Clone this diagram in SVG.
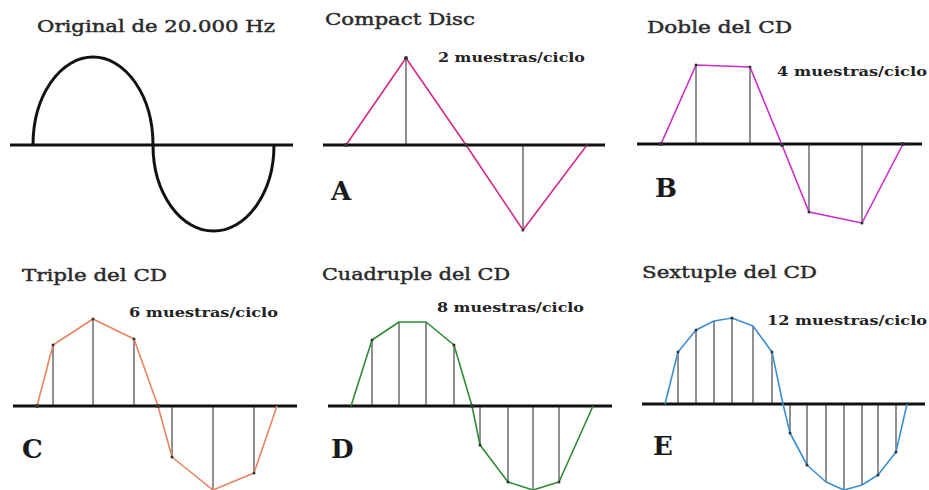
<svg xmlns="http://www.w3.org/2000/svg" width="929" height="490" viewBox="0 0 929 490">
<style>
.title{font-family:"DejaVu Serif","Liberation Serif",serif;font-size:16.5px;fill:#2a2a2a;stroke:#2a2a2a;stroke-width:0.45}
.rate{font-family:"DejaVu Serif","Liberation Serif",serif;font-size:12.5px;font-weight:bold;fill:#222}
.letter{font-family:"DejaVu Serif","Liberation Serif",serif;font-size:26px;font-weight:bold;fill:#1a1a1a}
.axis{stroke:#111;stroke-width:3;fill:none}
.stem{stroke:#222;stroke-width:1;fill:none}
.wave{fill:none;stroke-width:1.6;stroke-linejoin:round}
.dot{fill:#333}
</style>
<rect width="929" height="490" fill="#fff"/>

<g id="panel-original">
<text class="title" x="37" y="32" textLength="238" lengthAdjust="spacingAndGlyphs">Original de 20.000 Hz</text>
<line class="axis" x1="10" y1="145" x2="293" y2="145"/>
<path d="M33 145 A60 88 0 0 1 153 145 A60.5 86 0 0 0 274 145" fill="none" stroke="#111" stroke-width="3"/>
</g>

<g id="panel-A">
<text class="title" x="325" y="25" textLength="150" lengthAdjust="spacingAndGlyphs">Compact Disc</text>
<text class="rate" x="438" y="62" textLength="147" lengthAdjust="spacingAndGlyphs">2 muestras/ciclo</text>
<text class="letter" x="331" y="200">A</text>
<line class="axis" x1="323" y1="145" x2="605" y2="145"/>
<line class="stem" x1="406" y1="58" x2="406" y2="145"/>
<line class="stem" x1="523" y1="145" x2="523" y2="230"/>
<polyline class="wave" stroke="#d42a86" points="346,145 406,58 466,145 523,230 587,145"/>
<g class="dot"><circle cx="346" cy="145" r="2"/><circle cx="406" cy="58" r="2"/><circle cx="466" cy="145" r="2"/><circle cx="523" cy="230" r="1.5"/><circle cx="587" cy="145" r="1.5"/></g>
</g>

<g id="panel-B">
<text class="title" x="647" y="33" textLength="145" lengthAdjust="spacingAndGlyphs">Doble del CD</text>
<text class="rate" x="777" y="76" textLength="150" lengthAdjust="spacingAndGlyphs">4 muestras/ciclo</text>
<text class="letter" x="655" y="197">B</text>
<line class="axis" x1="637" y1="144" x2="922" y2="144"/>
<line class="stem" x1="696" y1="65" x2="696" y2="144"/>
<line class="stem" x1="750" y1="67" x2="750" y2="144"/>
<line class="stem" x1="809" y1="144" x2="809" y2="212"/>
<line class="stem" x1="862" y1="144" x2="862" y2="223"/>
<polyline class="wave" stroke="#cc2ccc" points="661,144 696,65 750,67 782,145 809,212 862,223 903,144"/>
<g class="dot"><circle cx="661" cy="144" r="2"/><circle cx="696" cy="65" r="1.5"/><circle cx="750" cy="67" r="1.5"/><circle cx="782" cy="145" r="2"/><circle cx="809" cy="212" r="1.5"/><circle cx="862" cy="223" r="1.5"/><circle cx="903" cy="144" r="2"/></g>
</g>

<g id="panel-C">
<text class="title" x="22" y="281" textLength="145" lengthAdjust="spacingAndGlyphs">Triple del CD</text>
<text class="rate" x="129" y="317" textLength="149" lengthAdjust="spacingAndGlyphs">6 muestras/ciclo</text>
<text class="letter" x="22" y="458">C</text>
<line class="axis" x1="13" y1="406" x2="297" y2="406"/>
<g class="stem">
<line x1="53" y1="345" x2="53" y2="406"/><line x1="93" y1="319" x2="93" y2="406"/><line x1="134" y1="339" x2="134" y2="406"/>
<line x1="172" y1="406" x2="172" y2="457"/><line x1="213" y1="406" x2="213" y2="490"/><line x1="254" y1="406" x2="254" y2="473"/>
</g>
<polyline class="wave" stroke="#e8845e" points="37,406 53,345 93,319 134,339 158,406 172,457 213,490 254,473 277,406"/>
<g class="dot"><circle cx="37" cy="406" r="2"/><circle cx="53" cy="345" r="1.5"/><circle cx="93" cy="319" r="1.5"/><circle cx="134" cy="339" r="1.5"/><circle cx="158" cy="406" r="2"/><circle cx="172" cy="457" r="1.5"/><circle cx="254" cy="473" r="1.5"/></g>
</g>

<g id="panel-D">
<text class="title" x="322" y="280" textLength="188" lengthAdjust="spacingAndGlyphs">Cuadruple del CD</text>
<text class="rate" x="437" y="312" textLength="147" lengthAdjust="spacingAndGlyphs">8 muestras/ciclo</text>
<text class="letter" x="331" y="458">D</text>
<line class="axis" x1="328" y1="406" x2="612" y2="406"/>
<g class="stem">
<line x1="372" y1="340" x2="372" y2="406"/><line x1="399" y1="322" x2="399" y2="406"/><line x1="426" y1="322" x2="426" y2="406"/><line x1="454" y1="345" x2="454" y2="406"/>
<line x1="480" y1="406" x2="480" y2="445"/><line x1="508" y1="406" x2="508" y2="482"/><line x1="533" y1="406" x2="533" y2="490"/><line x1="559" y1="406" x2="559" y2="482"/>
</g>
<polyline class="wave" stroke="#2f8c34" points="351,406 372,340 399,322 426,322 454,345 472,406 480,445 508,482 533,490 559,482 593,406"/>
<g class="dot"><circle cx="372" cy="340" r="1.5"/><circle cx="454" cy="345" r="1.5"/><circle cx="472" cy="406" r="2"/><circle cx="480" cy="445" r="1.5"/><circle cx="508" cy="482" r="1.5"/><circle cx="559" cy="482" r="1.5"/></g>
</g>

<g id="panel-E">
<text class="title" x="642" y="278" textLength="175" lengthAdjust="spacingAndGlyphs">Sextuple del CD</text>
<text class="rate" x="767" y="325" textLength="160" lengthAdjust="spacingAndGlyphs">12 muestras/ciclo</text>
<text class="letter" x="653" y="455">E</text>
<line class="axis" x1="642" y1="404" x2="925" y2="404"/>
<g class="stem">
<line x1="678" y1="352" x2="678" y2="404"/><line x1="696" y1="330" x2="696" y2="404"/><line x1="714" y1="321" x2="714" y2="404"/><line x1="732" y1="318" x2="732" y2="404"/><line x1="753" y1="326" x2="753" y2="404"/><line x1="772" y1="352" x2="772" y2="404"/>
<line x1="790" y1="404" x2="790" y2="433"/><line x1="807" y1="404" x2="807" y2="465"/><line x1="826" y1="404" x2="826" y2="482"/><line x1="844" y1="404" x2="844" y2="490"/><line x1="862" y1="404" x2="862" y2="485"/><line x1="878" y1="404" x2="878" y2="475"/><line x1="896" y1="404" x2="896" y2="452"/>
</g>
<polyline class="wave" stroke="#3b8fd6" points="665,404 678,352 696,330 714,321 732,318 753,326 772,352 783,404 790,433 807,465 826,482 844,490 862,485 878,475 896,452 907,404"/>
<g class="dot"><circle cx="678" cy="352" r="1.5"/><circle cx="696" cy="330" r="1.5"/><circle cx="732" cy="318" r="1.5"/><circle cx="772" cy="352" r="1.5"/><circle cx="790" cy="433" r="1.5"/><circle cx="807" cy="465" r="1.5"/><circle cx="878" cy="475" r="1.5"/><circle cx="896" cy="452" r="1.5"/></g>
</g>
</svg>
